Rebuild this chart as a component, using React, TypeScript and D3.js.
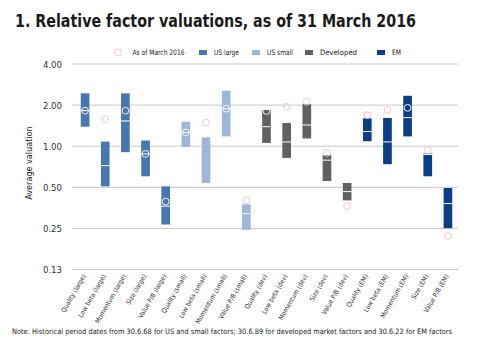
import React from "react";
import * as d3 from "d3";

const categories = [
  "Quality (large)", "Low beta (large)", "Momentum (large)", "Size (large)", "Value P/B (large)",
  "Quality (small)", "Low beta (small)", "Momentum (small)", "Value P/B (small)",
  "Quality (dev)", "Low beta (dev)", "Momentum (dev)", "Size (dev)", "Value P/B (dev)",
  "Quality (EM)", "Low beta (EM)", "Momentum (EM)", "Size (EM)", "Value P/B (EM)",
];
const groups = [
  "US large", "US large", "US large", "US large", "US large",
  "US small", "US small", "US small", "US small",
  "Developed", "Developed", "Developed", "Developed", "Developed",
  "EM", "EM", "EM", "EM", "EM",
];
const highValues = [2.44, 1.08, 2.44, 1.10, 0.508, 1.51, 1.16, 2.55, 0.375, 1.84, 1.48, 2.03, 0.86, 0.538, 1.60, 1.61, 2.34, 0.884, 0.494];
const lowValues = [1.39, 0.508, 0.904, 0.602, 0.267, 0.988, 0.538, 1.18, 0.244, 1.057, 0.821, 1.14, 0.556, 0.401, 1.088, 0.738, 1.18, 0.602, 0.251];
const medianValues: (number | null)[] = [1.82, 0.721, 1.53, 0.878, 0.364, 1.26, null, 1.88, 0.32, 1.39, 1.075, 1.43, 0.79, 0.465, 1.28, 1.075, 1.62, 0.87, 0.38];
const currentValues = [1.82, 1.58, 1.82, 0.878, 0.393, 1.26, 1.49, 1.88, 0.401, 1.81, 1.94, 2.115, 0.893, 0.364, 1.69, 1.84, 1.91, 0.935, 0.22];
const yTicks = [4, 2, 1, 0.5, 0.25, 0.125];
const yTickLabels = ["4.00", "2.00", "1.00", "0.50", "0.25", "0.13"];
const legendGroups = ["US large", "US small", "Developed", "EM"];
const groupColors: Record<string, string> = {
  "US large": "#4677ae",
  "US small": "#9cb7d7",
  "Developed": "#616161",
  "EM": "#0c3e87",
};

const FONT = "'DejaVu Sans Condensed', sans-serif";

export default function App() {
  const W = 480, H = 345;
  const x = d3.scaleBand<string>().domain(categories).range([75, 458]).paddingInner(0.57).paddingOuter(0.285);
  const y = d3.scaleLog().base(2).domain([0.125, 4]).range([269.5, 64]);
  const bw = x.bandwidth();
  const legendX = [199, 252, 305, 377];
  const legendW = [25, 26, 37, 9];
  const circleStroke = "#f2c6c6";
  return (
    <svg width={W} height={H} style={{ position: "absolute", left: 0, top: 0, background: "#fff" }} fontFamily={FONT}>
      <text x={15} y={27} fontSize={17} fontWeight="bold" fill="#1a1a1a" textLength={401} lengthAdjust="spacingAndGlyphs">
        1. Relative factor valuations, as of 31 March 2016
      </text>
      {/* legend */}
      <circle cx={118} cy={52.5} r={3.5} fill="#fff" stroke={circleStroke} strokeWidth={1} />
      <text x={132.5} y={55} fontSize={7.5} fill="#222" textLength={52} lengthAdjust="spacingAndGlyphs">As of March 2016</text>
      {legendGroups.map((g, i) => (
        <g key={g}>
          <rect x={legendX[i]} y={50} width={8} height={5} fill={groupColors[g]} />
          <text x={legendX[i] + 15} y={55} fontSize={7.5} fill="#222" textLength={legendW[i]} lengthAdjust="spacingAndGlyphs">{g}</text>
        </g>
      ))}
      {/* gridlines */}
      {yTicks.map((t, i) => (
        <g key={t}>
          <line x1={72} x2={458} y1={y(t)} y2={y(t)} stroke="#c8c8c8" strokeWidth={1} />
          <text x={62} y={y(t) + 3.5} fontSize={9.5} textAnchor="end" fill="#333">{yTickLabels[i]}</text>
        </g>
      ))}
      <text transform="translate(32,163) rotate(-90)" fontSize={9} textAnchor="middle" fill="#222">Average valuation</text>
      {/* bars */}
      {categories.map((c, i) => {
        const x0 = x(c)!;
        const cx = x0 + bw / 2;
        const top = y(highValues[i]);
        const bot = y(lowValues[i]);
        const m = medianValues[i];
        const cur = currentValues[i];
        const inside = cur <= highValues[i] && cur >= lowValues[i];
        return (
          <g key={c}>
            <rect x={x0} y={top} width={bw} height={bot - top} fill={groupColors[groups[i]]} />
            {m !== null && <line x1={x0} x2={x0 + bw} y1={y(m)} y2={y(m)} stroke="#fff" strokeWidth={1} />}
            <circle cx={cx} cy={y(cur)} r={3.4} fill="none" stroke={inside ? "#f4f4f8" : circleStroke} strokeWidth={1} />
            <text transform={`translate(${cx + 1},276) rotate(-60)`} fontSize={6.6} textAnchor="end" fill="#333">{c}</text>
          </g>
        );
      })}
      <text x={12} y={333.5} fontSize={7.4} fill="#222" textLength={440} lengthAdjust="spacingAndGlyphs">
        Note: Historical period dates from 30.6.68 for US and small factors; 30.6.89 for developed market factors and 30.6.22 for EM factors
      </text>
    </svg>
  );
}
